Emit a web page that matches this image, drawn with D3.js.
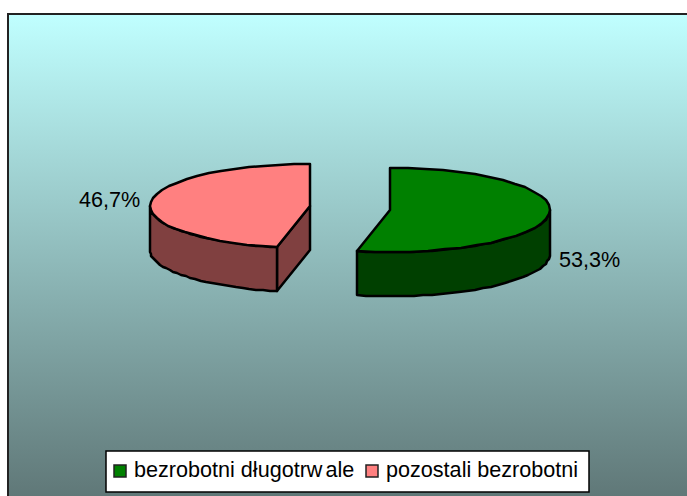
<!DOCTYPE html>
<html><head><meta charset="utf-8">
<style>html,body{margin:0;padding:0;background:#fff}svg{display:block}text{font-family:"Liberation Sans",Arial,sans-serif;fill:#000}</style>
<script src="https://cdn.jsdelivr.net/npm/d3@7"></script></head><body><div id="c"></div>
<script>
const categories=["bezrobotni długotrwale","pozostali bezrobotni"];
const values=[53.3,46.7];
const labels=["53,3%","46,7%"];
const topColors=["#008000","#FF8080"];
const sideColors=["#004000","#804040"];
const W=687,H=496;
const svg=d3.select("#c").append("svg").attr("width",W).attr("height",H);
const g=svg.append("defs").append("linearGradient").attr("id","bg").attr("gradientUnits","userSpaceOnUse").attr("x1",0).attr("y1",14).attr("x2",0).attr("y2",H);
g.append("stop").attr("offset",0).attr("stop-color","#C0FFFF");
g.append("stop").attr("offset",1).attr("stop-color","#607878");
svg.append("rect").attr("x",8).attr("y",14).attr("width",W+4).attr("height",H).attr("fill","url(#bg)").attr("stroke","#222").attr("stroke-width",2);

const pie=d3.pie().sort(null).value(d=>d)(values);
const rx=160,ry=42,depth=44;
const centres=[[390,210],[310,206]];
const pt=(c,a,dy=0)=>[Math.round(c[0]+rx*Math.sin(a)),Math.round(c[1]-ry*Math.cos(a)+dy)];
const arcPts=(c,a0,a1,dy=0)=>d3.range(0,31).map(i=>pt(c,a0+(a1-a0)*i/30,dy));
const line=d3.line();
const stroke=p=>p.attr("stroke","#000").attr("stroke-width",2.5).attr("stroke-linejoin","round");

pie.forEach((s,i)=>{
  const c=centres[i],a0=s.startAngle,a1=s.endAngle;
  const w0=Math.max(a0,Math.PI/2),w1=Math.min(a1,3*Math.PI/2);
  const wall=[...arcPts(c,w0,w1),...arcPts(c,w1,w0,depth)];
  if(i===1){
    const e=pt(c,a0);
    stroke(svg.append("path").attr("d",line([e,c,[c[0],c[1]+depth],[e[0],e[1]+depth]])+"Z").attr("fill",sideColors[i]));
  }
  stroke(svg.append("path").attr("d",line(wall)+"Z").attr("fill",sideColors[i]));
  const top=[c,...arcPts(c,a0,a1)];
  stroke(svg.append("path").attr("d",line(top)+"Z").attr("fill",topColors[i]));
});

const fs=21.6;
const txt=(x,y,t)=>svg.append("text").attr("x",x).attr("y",y).attr("font-size",fs).text(t);
txt(559,267,labels[0]);
txt(79,207,labels[1]);

svg.append("rect").attr("x",106).attr("y",451).attr("width",483).attr("height",41).attr("fill","#fff").attr("stroke","#000").attr("stroke-width",1.5);
const legendX=[114,366];
categories.forEach((t,i)=>{
  svg.append("rect").attr("x",legendX[i]).attr("y",465).attr("width",12).attr("height",12).attr("fill",topColors[i]).attr("stroke","#222").attr("stroke-width",1.5);
  const el=svg.append("text").attr("x",legendX[i]+20).attr("y",477).attr("font-size",fs);
  // the reference shows a small gap before the "ale" of "długotrwale"
  const k=t.indexOf("ale");
  if(i===0&&k>0){el.append("tspan").text(t.slice(0,k));el.append("tspan").attr("dx",3).text(t.slice(k));}
  else el.text(t);
});
</script></body></html>
